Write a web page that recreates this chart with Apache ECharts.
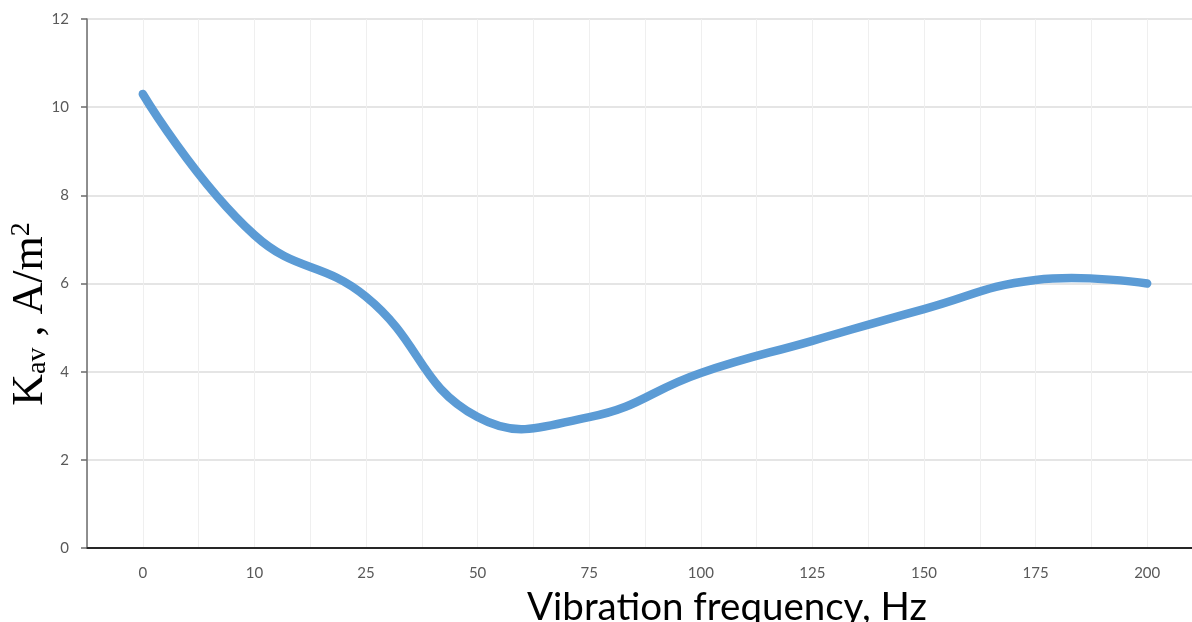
<!DOCTYPE html>
<html>
<head>
<meta charset="utf-8">
<title>Kav vs vibration frequency</title>
<script src="https://cdn.jsdelivr.net/npm/echarts@6/dist/echarts.min.js"></script>
<style>
  html, body { margin: 0; padding: 0; background: #fff; }
  #chart { width: 1192px; height: 622px; }
</style>
</head>
<body>
<div id="chart"></div>
<script>
// frequency categories (Hz), as labelled on the axis
var frequencies = ['0', '10', '25', '50', '75', '100', '125', '150', '175', '200'];
// Kav values (A/m2)
var kavValues = [10.3, 7.1, 5.7, 2.97, 2.97, 3.97, 4.7, 5.42, 6.08, 6.0];
// y axis ticks
var yMin = 0;
var yMax = 12;
var yStep = 2;

var chart = echarts.init(document.getElementById('chart'));

// spreadsheet style smoothing (no clamping of control points, so it may dip a bit)
function renderCurve(params, api) {
  if (params.dataIndex !== 0) return null;
  var pts = kavValues.map(function (v, i) {
    return api.coord([i, v]);
  });
  return {
    type: 'polyline',
    shape: { points: pts, smooth: 0.45 },
    style: {
      fill: null,
      stroke: '#5b9bd5',
      lineWidth: 8.5,
      lineCap: 'round',
      lineJoin: 'round'
    }
  };
}

var option = {
  animation: false,
  backgroundColor: '#ffffff',
  grid: {
    left: 87,
    top: 19,
    width: 1116,   // the right edge of the plot is cut off by the frame
    bottom: 74,
    containLabel: false,
    outerBoundsMode: 'none'
  },
  xAxis: [
    {
      type: 'category',
      data: frequencies,
      boundaryGap: true,
      axisLine: { show: true, lineStyle: { color: '#262626', width: 2 } },
      axisTick: { show: false },
      axisLabel: {
        color: '#595959',
        fontSize: 15,
        fontFamily: 'Lato',
        margin: 18
      },
      splitLine: { show: false },
      name: 'Vibration frequency, Hz',
      nameLocation: 'middle',
      nameGap: 40,
      nameTextStyle: {
        color: '#000000',
        fontSize: 38.5,
        fontFamily: 'Lato',
        padding: [0, 0, 0, 164]
      }
    },
    {
      // helper axis: only draws the light vertical grid every half category
      type: 'value',
      position: 'top',
      min: 0,
      max: 20,
      interval: 1,
      axisLine: { show: false },
      axisTick: { show: false },
      axisLabel: { show: false },
      splitLine: { show: true, lineStyle: { color: '#efefef', width: 1 } }
    }
  ],
  yAxis: {
    type: 'value',
    min: yMin,
    max: yMax,
    interval: yStep,
    axisLine: { show: true, lineStyle: { color: '#6b6b6b', width: 1.5 } },
    axisTick: { show: true, length: 6, lineStyle: { color: '#6b6b6b', width: 1.5 } },
    axisLabel: {
      color: '#595959',
      fontSize: 15,
      fontFamily: 'Lato',
      margin: 18
    },
    splitLine: { show: true, lineStyle: { color: '#dcdcdc', width: 1.5 } }
  },
  graphic: [
    {
      type: 'text',
      x: 30,
      y: 314,
      rotation: Math.PI / 2,
      style: {
        text: '{m|K}{sub|av}{m| , A/m}{sup|2}',
        align: 'center',
        verticalAlign: 'middle',
        fill: '#000000',
        rich: {
          m: { fontFamily: 'Liberation Serif', fontSize: 44, lineHeight: 44, verticalAlign: 'bottom', fill: '#000' },
          sub: { fontFamily: 'Liberation Serif', fontSize: 28, lineHeight: 28, verticalAlign: 'bottom', fill: '#000' },
          sup: { fontFamily: 'Liberation Serif', fontSize: 28, lineHeight: 28, verticalAlign: 'top', fill: '#000' }
        }
      }
    }
  ],
  series: [
    {
      name: 'Kav',
      type: 'custom',
      xAxisIndex: 0,
      yAxisIndex: 0,
      data: kavValues,
      renderItem: renderCurve
    }
  ]
};

chart.setOption(option);
</script>
</body>
</html>
